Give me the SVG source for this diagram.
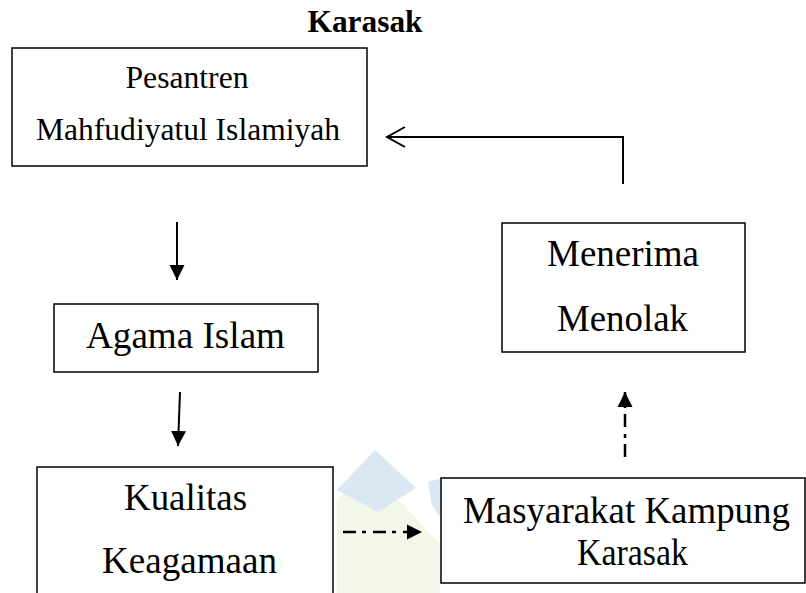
<svg xmlns="http://www.w3.org/2000/svg" width="806" height="593" viewBox="0 0 806 593">
<style>
.box{fill:#fff;stroke:#000;stroke-width:1.5}
.t{font-family:"Liberation Serif","Times New Roman",serif;fill:#000;text-anchor:middle}
.c{fill:none;stroke:#000;stroke-width:2}
.dd{fill:none;stroke:#000;stroke-width:2.5;stroke-dasharray:13 6 4 7}
</style>
<defs>
<marker id="ah" markerWidth="16" markerHeight="16" refX="15" refY="8" orient="auto" markerUnits="userSpaceOnUse">
<path d="M0,0.5 L15,8 L0,15.5 Z" fill="#000"/>
</marker>
</defs>
<rect width="806" height="593" fill="#fff"/>
<g id="watermark" opacity="0.6">
<polygon points="337,500 372,470 440,545 440,593 337,593" fill="#eaf3dc"/>
<polygon points="375,450 416,488 378,512 337,490" fill="#c3d9ec"/>
<polygon points="428,482 442,478 442,520 432,505" fill="#c3d9ec"/>
</g>
<text class="t" x="365" y="32" font-size="32" font-weight="bold" textLength="115" lengthAdjust="spacingAndGlyphs">Karasak</text>
<g id="n1">
<rect class="box" x="12" y="48" width="355" height="118"/>
<text class="t" x="187" y="88" font-size="32" textLength="123" lengthAdjust="spacingAndGlyphs">Pesantren</text>
<text class="t" x="188" y="140" font-size="32" textLength="304" lengthAdjust="spacingAndGlyphs">Mahfudiyatul Islamiyah</text>
</g>
<g id="n2">
<rect class="box" x="54" y="304" width="264" height="68"/>
<text class="t" x="185.5" y="348" font-size="38" textLength="199" lengthAdjust="spacingAndGlyphs">Agama Islam</text>
</g>
<g id="n3">
<rect class="box" x="37" y="467" width="296" height="140"/>
<text class="t" x="185.5" y="510" font-size="37" textLength="123" lengthAdjust="spacingAndGlyphs">Kualitas</text>
<text class="t" x="189.5" y="573" font-size="37" textLength="175" lengthAdjust="spacingAndGlyphs">Keagamaan</text>
</g>
<g id="n4">
<rect class="box" x="441" y="478" width="364" height="105"/>
<text class="t" x="626.5" y="523" font-size="38" textLength="327" lengthAdjust="spacingAndGlyphs">Masyarakat Kampung</text>
<text class="t" x="632.5" y="565" font-size="38" textLength="111" lengthAdjust="spacingAndGlyphs">Karasak</text>
</g>
<g id="n5">
<rect class="box" x="502" y="223" width="243" height="129"/>
<text class="t" x="623" y="266" font-size="37" textLength="152" lengthAdjust="spacingAndGlyphs">Menerima</text>
<text class="t" x="622.5" y="331" font-size="37" textLength="131" lengthAdjust="spacingAndGlyphs">Menolak</text>
</g>
<g id="connectors">
<path class="c" d="M623,184 L623,137 L387,137"/>
<path class="c" d="M405,127 L387,137 L405,147"/>
<path class="c" d="M177,222 L177,280" marker-end="url(#ah)"/>
<path class="c" d="M180,392 L178,446" marker-end="url(#ah)"/>
<path class="dd" d="M343,532 L422,532" marker-end="url(#ah)"/>
<path class="dd" d="M625,457 L625,392" marker-end="url(#ah)"/>
</g>
</svg>
